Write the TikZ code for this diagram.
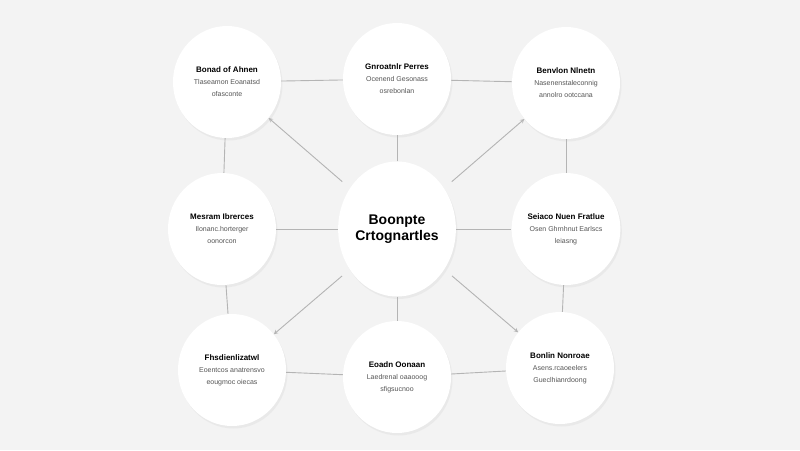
\documentclass[tikz,border=0pt]{standalone}
\usepackage{fontspec}
\setmainfont{Liberation Sans}
\usetikzlibrary{positioning, arrows, shapes.geometric, shadows}
\definecolor{bggray}{HTML}{F3F3F3}
\definecolor{linegray}{HTML}{B4B4B4}
\definecolor{subgray}{HTML}{555555}
\tikzset{
    >=stealth, % arrow heads
    bubble/.style={ellipse, fill=white, minimum width=108pt, minimum height=112pt, inner sep=0pt,
        align=center, drop shadow={opacity=0.08, shadow xshift=1.5pt, shadow yshift=-2.5pt}}, % outer circles
    hub/.style={bubble, minimum width=117pt, minimum height=135pt,
        font=\bfseries\fontsize{14}{16}\selectfont}, % the middle circle
    link/.style={draw=linegray, line width=0.9pt}, % plain connectors
    spoke/.style={link, ->, shorten <=10pt}, % arrows going out of the middle
}
\newcommand{\bubbletext}[3]{{\bfseries\fontsize{8}{10}\selectfont #1}\\[0pt]
    {\fontsize{7}{8.5}\selectfont\color{subgray}#2}\\
    {\fontsize{7}{8.5}\selectfont\color{subgray}#3}}

\begin{document}
\begin{tikzpicture}[x=1pt, y=-1pt, on grid]
    \fill[bggray] (0,0) rectangle (800,450);
    \useasboundingbox (0,0) rectangle (800,450);
    \node[hub] (ctr) at (397,229) {Boonpte\\Crtognartles};
    \node[bubble, above left=147pt and 170pt of ctr] (tl) {\bubbletext{Bonad of Ahnen}{Tlaseamon Eoanatsd}{ofasconte}};
    \node[bubble, above=150pt of ctr] (tc) {\bubbletext{Gnroatnlr Perres}{Ocenend Gesonass}{osrebonlan}};
    \node[bubble, above right=146pt and 169pt of ctr] (tr) {\bubbletext{Benvlon Nlnetn}{Nasenenstaleconnig}{annolro ootccana}};
    \node[bubble, left=175pt of ctr] (ml) {\bubbletext{Mesram Ibrerces}{Ilonanc.horterger}{oonorcon}};
    \node[bubble, right=169pt of ctr] (mr) {\bubbletext{Seiaco Nuen Fratlue}{Osen Ghrnhnut Earlscs}{leiasng}};
    \node[bubble, below left=141pt and 165pt of ctr] (bl) {\bubbletext{Fhsdienlizatwl}{Eoentcos anatrensvo}{eougmoc oiecas}};
    \node[bubble, below=148pt of ctr] (bc) {\bubbletext{Eoadn Oonaan}{Laedrenal oaaooog}{sfigsucnoo}};
    \node[bubble, below right=139pt and 163pt of ctr] (br) {\bubbletext{Bonlin Nonroae}{Asens.rcaoeelers}{Gueclhianrdoong}};
    % ring
    \draw[link] (tl) -- (tc);
    \draw[link] (tc) -- (tr);
    \draw[link] (tr) -- (mr);
    \draw[link] (mr) -- (br);
    \draw[link] (br) -- (bc);
    \draw[link] (bc) -- (bl);
    \draw[link] (bl) -- (ml);
    \draw[link] (ml) -- (tl);
    % straight to the middle
    \draw[link] (ctr) -- (tc);
    \draw[link] (ctr) -- (bc);
    \draw[link] (ctr) -- (ml);
    \draw[link] (ctr) -- (mr);
    % diagonals
    \draw[spoke] (ctr) -- (tl);
    \draw[spoke] (ctr) -- (tr);
    \draw[spoke] (ctr) -- (bl);
    \draw[spoke] (ctr) -- (br);
\end{tikzpicture}
\end{document}
